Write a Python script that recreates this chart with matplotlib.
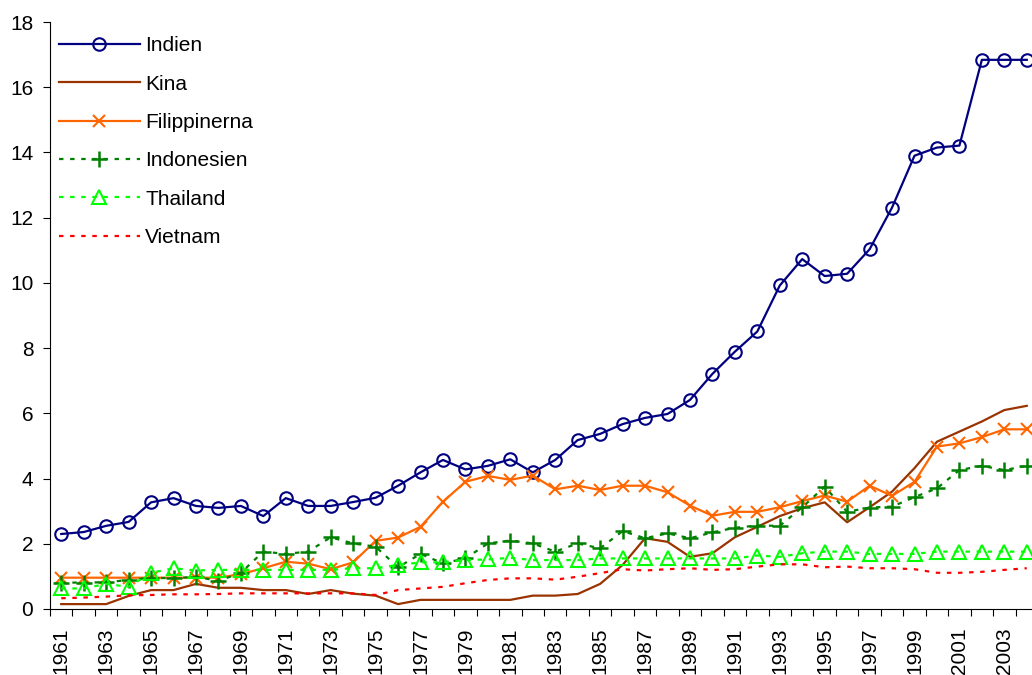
import matplotlib
matplotlib.use("Agg")
import matplotlib.pyplot as plt
import numpy as np

years = list(range(1961, 2005))

indien = [2.30, 2.36, 2.55, 2.67, 3.27, 3.40, 3.16, 3.10, 3.16, 2.85,
          3.40, 3.16, 3.16, 3.28, 3.41, 3.78, 4.19, 4.57, 4.28, 4.39,
          4.59, 4.19, 4.57, 5.18, 5.37, 5.67, 5.86, 5.98, 6.41, 7.21,
          7.89, 8.51, 9.92, 10.73, 10.21, 10.28, 11.03, 12.31, 13.90, 14.15,
          14.21, 16.84, 16.84, 16.84]

kina = [0.15, 0.15, 0.15, 0.40, 0.58, 0.58, 0.77, 0.65, 0.65, 0.58,
        0.58, 0.46, 0.58, 0.47, 0.41, 0.15, 0.28, 0.28, 0.28, 0.28,
        0.28, 0.41, 0.41, 0.46, 0.77, 1.35, 2.17, 2.06, 1.60, 1.71,
        2.20, 2.52, 2.85, 3.09, 3.27, 2.66, 3.12, 3.60, 4.32, 5.13,
        5.44, 5.75, 6.10, 6.23]

filippinerna = [0.96, 0.96, 0.96, 0.96, 0.96, 0.96, 0.96, 0.96, 1.07, 1.25,
                1.45, 1.39, 1.22, 1.43, 2.09, 2.19, 2.52, 3.29, 3.90, 4.08,
                3.96, 4.09, 3.67, 3.78, 3.65, 3.78, 3.78, 3.58, 3.17, 2.86,
                2.98, 2.98, 3.12, 3.31, 3.48, 3.29, 3.78, 3.47, 3.90, 4.98,
                5.08, 5.27, 5.51, 5.51]

indonesien = [0.81, 0.81, 0.82, 0.89, 0.96, 0.94, 0.99, 0.86, 1.11, 1.76,
              1.69, 1.76, 2.20, 2.01, 1.91, 1.28, 1.69, 1.40, 1.55, 2.01,
              2.10, 2.01, 1.76, 2.01, 1.86, 2.39, 2.17, 2.32, 2.17, 2.35,
              2.49, 2.56, 2.55, 3.12, 3.75, 2.98, 3.11, 3.14, 3.43, 3.70,
              4.26, 4.39, 4.26, 4.39]

thailand = [0.63, 0.63, 0.77, 0.68, 1.11, 1.25, 1.18, 1.20, 1.20, 1.20,
            1.20, 1.20, 1.20, 1.25, 1.25, 1.35, 1.43, 1.43, 1.50, 1.52,
            1.57, 1.50, 1.50, 1.50, 1.55, 1.55, 1.55, 1.55, 1.55, 1.55,
            1.55, 1.64, 1.60, 1.71, 1.76, 1.76, 1.69, 1.69, 1.69, 1.76,
            1.76, 1.76, 1.76, 1.76]

vietnam = [0.33, 0.35, 0.38, 0.42, 0.43, 0.45, 0.45, 0.46, 0.48, 0.48,
           0.48, 0.48, 0.48, 0.48, 0.43, 0.58, 0.63, 0.68, 0.79, 0.89,
           0.94, 0.94, 0.90, 0.99, 1.10, 1.22, 1.18, 1.22, 1.25, 1.20,
           1.22, 1.30, 1.37, 1.37, 1.28, 1.30, 1.25, 1.25, 1.22, 1.11,
           1.11, 1.14, 1.20, 1.25]

plt.rcParams['font.family'] = ['Liberation Sans', 'DejaVu Sans']

fig = plt.figure(figsize=(10.32, 6.75), dpi=100)
ax = fig.add_axes([50 / 1032, 66 / 675, 988 / 1032, 587 / 675])

x = np.arange(len(years))

ax.plot(x, indien, color='#000080', lw=1.6, marker='o', ms=9,
        mfc='none', mec='#000080', mew=1.5, label='Indien')
ax.plot(x, kina, color='#993300', lw=1.6, label='Kina')
ax.plot(x, filippinerna, color='#FF6600', lw=1.6, marker='x', ms=9,
        mew=1.5, label='Filippinerna')
ax.plot(x, indonesien, color='#008000', lw=1.6, ls=(0, (2, 3)), marker='+',
        ms=11, mew=1.8, label='Indonesien')
ax.plot(x, thailand, color='#00FF00', lw=1.6, ls=(0, (2, 3)), marker='^',
        ms=10, mfc='none', mec='#00FF00', mew=1.5, label='Thailand')
ax.plot(x, vietnam, color='#FF0000', lw=1.6, ls=(0, (2, 3)), label='Vietnam')

ax.set_xlim(-0.5, len(years) - 0.5)
ax.set_ylim(0, 18)
ax.set_yticks(range(0, 19, 2))

# ticks between categories, labels on every second year
ax.set_xticks(np.arange(-0.5, len(years), 1))
ax.set_xticklabels([])
ax.set_xticks(x[::2], minor=True)
ax.set_xticklabels([str(y) for y in years[::2]], minor=True, rotation=90)
ax.tick_params(axis='x', which='minor', length=0, pad=13, labelsize=15)
ax.tick_params(axis='x', which='major', length=5, direction='out')
ax.tick_params(axis='y', length=5, direction='out', pad=7, labelsize=15)

for s in ['top', 'right']:
    ax.spines[s].set_visible(False)

ax.legend(loc='upper left', bbox_to_anchor=(-0.004, 0.997), frameon=False,
          fontsize=15, handlelength=3.9, handletextpad=0.25,
          labelspacing=0.93, numpoints=1, borderaxespad=0.2)

fig.savefig('out.png', dpi=100)
